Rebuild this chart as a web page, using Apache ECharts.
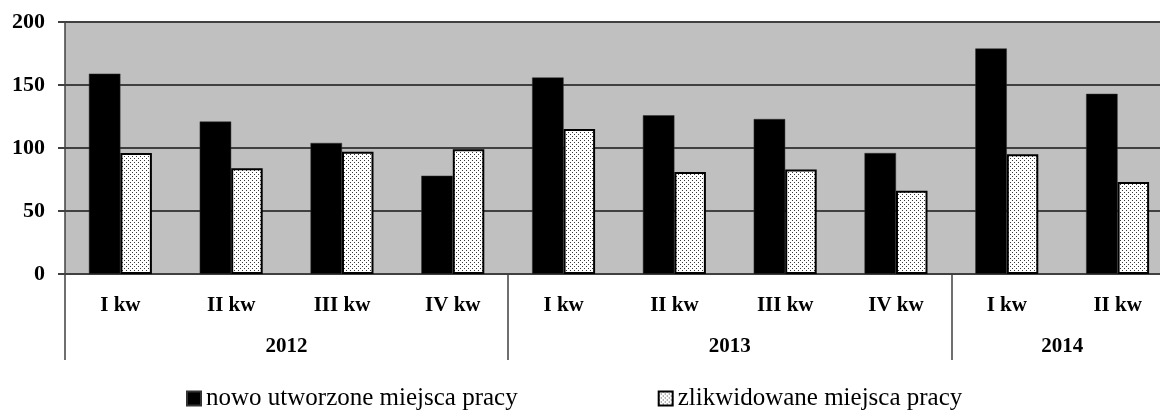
<!DOCTYPE html>
<html>
<head>
<meta charset="utf-8">
<script src="https://cdn.jsdelivr.net/npm/echarts@6/dist/echarts.min.js"></script>
<style>
  html, body {
    margin: 0;
    padding: 0;
    width: 1160px;
    height: 412px;
    overflow: hidden;
    background: #fff;
  }
  /* obszar wykresu wychodzi poza prawa krawedz, jak w oryginale */
  #main {
    width: 1173px;
    height: 412px;
  }
</style>
</head>
<body>
<div id="main"></div>
<script>
// dane
var quarters = ["I kw", "II kw", "III kw", "IV kw", "I kw", "II kw", "III kw", "IV kw", "I kw", "II kw"];
var years = ["2012", "2013", "2014"];
var yearSpans = [4, 4, 2];
var created = [159, 121, 104, 78, 156, 126, 123, 96, 179, 143];
var liquidated = [96, 84, 97, 99, 115, 81, 83, 66, 95, 73];
var seriesNames = ["nowo utworzone miejsca pracy", "zlikwidowane miejsca pracy"];
var yTicks = [0, 50, 100, 150, 200];

// granice lat i srodki etykiet lat
var yearBounds = [0];
var yearCenters = [];
yearSpans.forEach(function (s, i) {
  var start = yearBounds[i];
  yearBounds.push(start + s);
  yearCenters.push(start + s / 2);
});

// wzor kropkowany
function dotPattern() {
  var c = document.createElement("canvas");
  c.width = 4;
  c.height = 4;
  var ctx = c.getContext("2d");
  ctx.fillStyle = "#ffffff";
  ctx.fillRect(0, 0, 4, 4);
  ctx.fillStyle = "#3a3a3a";
  ctx.fillRect(0, 0, 1, 1);
  ctx.fillRect(2, 2, 1, 1);
  return c;
}

var font = "'Liberation Serif', 'Times New Roman', serif";
var myChart = echarts.init(document.getElementById("main"));

var option = {
  animation: false,
  grid: {
    left: 65,
    top: 22,
    right: 0,
    bottom: 138,
    show: true,
    backgroundColor: "#c0c0c0",
    borderWidth: 0,
  },
  legend: {
    data: seriesNames,
    top: 381,
    left: 181,
    itemGap: 140,
    itemWidth: 14,
    itemHeight: 14,
    icon: "rect",
    textStyle: {
      fontFamily: font,
      fontSize: 25,
      color: "#000",
    },
  },
  xAxis: [
    {
      type: "category",
      data: quarters,
      axisLine: { show: true, lineStyle: { color: "#404040", width: 2 } },
      axisTick: { show: false },
      axisLabel: {
        interval: 0,
        margin: 21,
        fontFamily: font,
        fontWeight: "bold",
        fontSize: 21,
        color: "#000",
      },
    },
    {
      type: "value",
      position: "bottom",
      min: 0,
      max: quarters.length,
      axisLine: { show: false },
      splitLine: { show: false },
      axisTick: {
        show: true,
        length: 86,
        customValues: yearBounds,
        lineStyle: { color: "#404040", width: 1.5 },
      },
      axisLabel: {
        show: true,
        margin: 62,
        customValues: yearCenters,
        formatter: function (v) {
          var i = yearCenters.indexOf(v);
          return i >= 0 ? years[i] : "";
        },
        fontFamily: font,
        fontWeight: "bold",
        fontSize: 21,
        color: "#000",
      },
    },
  ],
  yAxis: {
    type: "value",
    min: yTicks[0],
    max: yTicks[yTicks.length - 1],
    interval: 50,
    axisLine: { show: true, lineStyle: { color: "#404040", width: 1.5 } },
    axisTick: { show: true, length: 7, lineStyle: { color: "#404040", width: 2 } },
    splitLine: { show: true, lineStyle: { color: "#404040", width: 2 } },
    axisLabel: {
      margin: 20,
      fontFamily: font,
      fontWeight: "bold",
      fontSize: 22,
      color: "#000",
    },
  },
  series: [
    {
      name: seriesNames[0],
      type: "bar",
      data: created,
      barWidth: 31.5,
      barGap: "0%",
      itemStyle: { color: "#000", borderColor: "#333", borderWidth: 0.5 },
    },
    {
      name: seriesNames[1],
      type: "bar",
      data: liquidated,
      barWidth: 31.5,
      barGap: "0%",
      itemStyle: {
        color: { image: dotPattern(), repeat: "repeat" },
        borderColor: "#000",
        borderWidth: 2,
      },
    },
  ],
};

myChart.setOption(option);
window.onresize = myChart.resize;
</script>
</body>
</html>
